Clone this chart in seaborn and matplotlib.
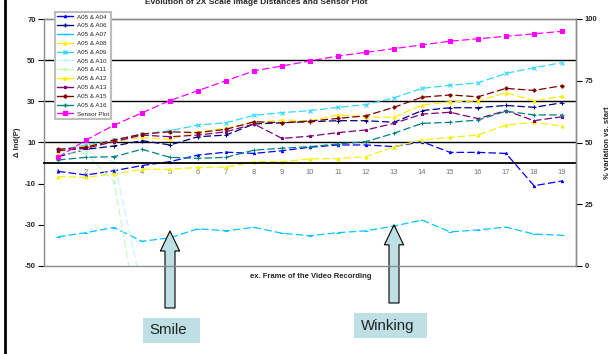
import numpy as np
import pandas as pd
import matplotlib
matplotlib.use("Agg")
import matplotlib.pyplot as plt
from matplotlib.lines import Line2D
from matplotlib.patches import Rectangle
import seaborn as sns

# ---- data -------------------------------------------------------------
frames = list(range(1, 20))
nan = np.nan

a05_a04 = [-4.0, -5.8, -3.7, -1.2, 0.7, 3.9, 5.3, 4.7, 6.0, 7.7, 8.8, 8.8, 8.0, 10.4, 5.2, 5.2, 4.7, -11.0, -8.7]
a05_a06 = [3.1, 6.7, 8.3, 10.9, 8.8, 12.8, 13.6, 19.0, 19.6, 20.1, 20.6, 20.6, 19.8, 25.5, 26.9, 26.9, 28.0, 27.1, 29.3]
a05_a07 = [-35.8, -33.8, -31.3, -38.0, -36.3, -31.9, -32.9, -31.2, -34.1, -35.3, -33.8, -32.9, -30.6, -27.7, -33.4, -32.5, -31.1, -34.5, -35.1]
a05_a08 = [-6.6, -6.9, -5.3, -3.0, -3.0, -2.1, -1.9, 0.7, 0.7, 2.0, 2.2, 3.1, 7.9, 11.2, 12.5, 13.6, 18.5, 19.8, 18.0]
a05_a09 = [6.3, 8.8, 11.2, 14.1, 15.7, 18.5, 19.6, 23.2, 24.5, 25.5, 27.1, 28.4, 31.7, 36.3, 37.8, 39.0, 43.6, 46.3, 48.8]
a05_a10 = [7.0, 6.0, 0.5, -61.0] + [nan] * 15
a05_a11 = [5.0, 4.7, -9.0, -86.0] + [nan] * 15
a05_a12 = [5.5, 8.3, 10.4, 12.5, 11.5, 15.2, 16.9, 19.6, 20.9, 20.6, 23.4, 22.5, 22.2, 28.2, 29.8, 30.2, 34.2, 30.3, 32.4]
a05_a13 = [6.0, 7.2, 10.4, 13.6, 12.8, 13.6, 15.2, 19.0, 12.0, 13.1, 14.8, 16.1, 19.3, 23.8, 24.7, 21.6, 25.5, 20.6, 22.5]
a05_a15 = [6.7, 7.7, 11.2, 14.1, 15.2, 14.8, 16.4, 20.1, 19.6, 20.4, 21.7, 23.0, 27.1, 32.0, 33.1, 32.2, 36.3, 35.3, 37.6]
a05_a16 = [1.5, 2.8, 3.1, 6.7, 2.8, 2.3, 2.8, 6.3, 7.2, 8.0, 9.3, 10.4, 14.5, 19.3, 19.8, 20.9, 25.2, 23.4, 23.4]
sensor_plot = [44, 51, 57, 62, 67, 71, 75, 79, 81, 83, 85, 86.5, 88, 89.5, 91, 92, 93, 94, 95]

left_ticks = [-50, -30, -10, 10, 30, 50, 70]
right_ticks = [0, 25, 50, 75, 100]

title = "Evolution of 2X Scale Image Distances and Sensor Plot"
x_title = "ex. Frame of the Video Recording"
left_title = "\u0394 Ind(P)"
right_title = "% variation vs. start"

# name, values, colour, marker, marker size, secondary axis?
series = [
    ("A05 & A04", a05_a04, "#0000FF", "^", 1.6, False),
    ("A05 & A06", a05_a06, "#000080", "+", 3.0, False),
    ("A05 & A07", a05_a07, "#00C8FF", "_", 3.0, False),
    ("A05 & A08", a05_a08, "#F2F20A", "^", 2.2, False),
    ("A05 & A09", a05_a09, "#30D8FF", "x", 2.2, False),
    ("A05 & A10", a05_a10, "#C8F4FF", "*", 2.2, False),
    ("A05 & A11", a05_a11, "#C8F8C8", "s", 1.8, False),
    ("A05 & A12", a05_a12, "#FFEE00", "^", 2.2, False),
    ("A05 & A13", a05_a13, "#800080", "*", 2.2, False),
    ("A05 & A15", a05_a15, "#800000", "P", 2.2, False),
    ("A05 & A16", a05_a16, "#008080", "+", 2.6, False),
    ("Sensor Plot", sensor_plot, "#FF00FF", "s", 2.2, True),
]

# ---- style ------------------------------------------------------------
sns.set_theme(style="white")
plt.rcParams["font.family"] = ["Liberation Sans", "DejaVu Sans"]
plt.rcParams["axes.unicode_minus"] = False

W, H = 611, 354
fig = plt.figure(figsize=(W / 100, H / 100), dpi=100)
fig.patch.set_facecolor("white")

x0, x1, y0, y1 = 44, 576, 19, 266
ax = fig.add_axes([x0 / W, 1 - y1 / H, (x1 - x0) / W, (y1 - y0) / H])
ax2 = ax.twinx()
ax.set_facecolor("white")

positions = np.arange(len(frames))
dash = (0, (6, 2.5))

for name, vals, color, marker, ms, secondary in series:
    target = ax2 if secondary else ax
    sns.lineplot(x=positions, y=np.asarray(vals, dtype=float), ax=target,
                 color=color, marker=marker, markersize=ms,
                 markeredgecolor=color, markeredgewidth=0.8,
                 linewidth=0.9, linestyle=dash, errorbar=None,
                 legend=False, sort=False)

# ---- axes -------------------------------------------------------------
ax.set_xlim(-0.5, len(frames) - 0.5)
ax.set_ylim(-50, 70)
ax2.set_ylim(0, 100)

for y in (10, 30, 50):
    ax.axhline(y, color="black", lw=1.0, zorder=0.5)

# category axis crosses at zero
ax.spines["bottom"].set_position(("data", 0))
ax.spines["bottom"].set_color("black")
ax.spines["bottom"].set_linewidth(1.3)
for s in ("left", "top", "right"):
    ax.spines[s].set_color("#8c8c8c")
    ax.spines[s].set_linewidth(1.0)
for s in ("bottom", "top", "right"):
    ax2.spines[s].set_color("#8c8c8c")
    ax2.spines[s].set_linewidth(1.0)
ax2.spines["left"].set_visible(False)

ax.set_xticks(positions)
ax.set_xticklabels([str(f) for f in frames])
ax.set_xticks(positions[:-1] + 0.5, minor=True)
ax.tick_params(axis="x", which="major", length=0, pad=4, labelsize=5.5,
               labelcolor="#777777")
ax.tick_params(axis="x", which="minor", direction="in", length=3,
               width=0.8, color="#777777")

ax.set_yticks(left_ticks)
ax.set_yticklabels([str(t) for t in left_ticks], fontweight="bold")
ax.tick_params(axis="y", direction="out", length=4, width=0.8,
               color="black", pad=2, labelsize=5.5, left=True)
ax2.set_yticks(right_ticks)
ax2.set_yticklabels([str(t) for t in right_ticks], fontweight="bold")
ax2.tick_params(axis="y", direction="out", length=4, width=0.8,
                color="black", pad=2, labelsize=5.5, right=True)

ax.set_xlabel("")
ax.set_ylabel(left_title, fontsize=5.5, fontweight="bold", labelpad=3)
ax2.set_ylabel(right_title, fontsize=5.5, fontweight="bold", labelpad=5,
               rotation=90)

fig.text(256 / W, 1 - 2 / H, title, ha="center", va="center",
         fontsize=6, fontweight="bold")
fig.text(311 / W, 1 - 276 / H, x_title, ha="center", va="center",
         fontsize=5.5, fontweight="bold")

# ---- legend -----------------------------------------------------------
handles = [Line2D([], [], color=c, marker=m, markersize=ms,
                  markeredgecolor=c, linewidth=1.0, linestyle="-")
           for _, _, c, m, ms, _ in series]
labels = [s[0] for s in series]
leg = fig.legend(handles, labels, loc="upper left",
                 bbox_to_anchor=(55 / W, 1 - 12 / H),
                 bbox_transform=fig.transFigure, fontsize=4.5,
                 frameon=True, fancybox=False, framealpha=1,
                 edgecolor="#bdbdbd", handlelength=2.6, labelspacing=0.55,
                 borderpad=0.35, handletextpad=0.5, borderaxespad=0)
leg.get_frame().set_linewidth(1.5)

# ---- event markers ----------------------------------------------------
arrow_fill = "#BEE0E4"
arrow_style = "simple,head_length=0.72,head_width=0.69,tail_width=0.36"
events = [("Smile", 4, -33.0, 308, (143, 318, 57, 25), 330),
          ("Winking", 12, -30.0, 303, (354, 313, 73, 25), 326)]
for label, pos, val, tail_y, box, text_y in events:
    tip_px = ax.transData.transform((pos, val))
    ax.annotate("", xy=(pos, val), xycoords="data",
                xytext=(tip_px[0], H - tail_y), textcoords="figure pixels",
                arrowprops=dict(arrowstyle=arrow_style, mutation_scale=20,
                                fc=arrow_fill, ec="black", lw=0.8,
                                shrinkA=0, shrinkB=0),
                annotation_clip=False)
    bx, by, bw, bh = box
    fig.add_artist(Rectangle((bx / W, 1 - (by + bh) / H), bw / W, bh / H,
                             transform=fig.transFigure, facecolor=arrow_fill,
                             edgecolor="none"))
    fig.text((bx + bw / 2 - 3) / W, 1 - text_y / H, label, ha="center",
             va="center", fontsize=10.8, color="#222222")

# left page border
fig.add_artist(Line2D([5 / W, 5 / W], [0, 1], transform=fig.transFigure,
                      color="black", lw=2))

fig.savefig("out.png", dpi=100, facecolor="white")
